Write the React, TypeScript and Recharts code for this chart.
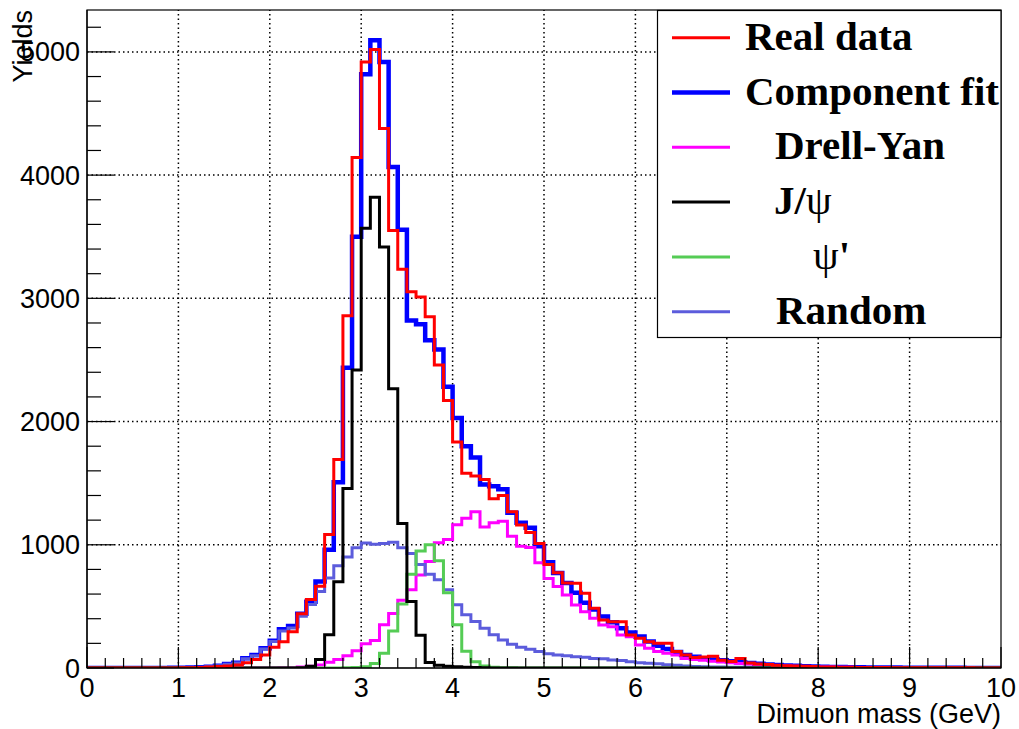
import React from "react";
import { ComposedChart, Line, XAxis, YAxis, ReferenceLine } from "recharts";

// bin contents, 100 bins of 0.1 GeV from 0 to 10
const realData = [
  0, 0, 0, 0, 0, 0, 0, 0, 1, 1,
  2, 3, 5, 8, 12, 16, 24, 43, 70, 106,
  168, 214, 295, 440, 555, 663, 1084, 1693, 2858, 4142,
  4919, 5020, 4378, 3551, 3236, 3054, 3010, 2851, 2460, 2170,
  1835, 1580, 1558, 1530, 1373, 1400, 1268, 1160, 1099, 1010,
  840, 772, 690, 687, 606, 484, 390, 376, 376, 268,
  241, 214, 200, 200, 133, 106, 85, 90, 95, 62,
  52, 78, 40, 33, 28, 23, 19, 16, 14, 12,
  9, 8, 7, 6, 5, 5, 4, 4, 3, 3,
  3, 3, 2, 2, 2, 2, 2, 1, 1, 1,
];

const componentFit = [
  0, 0, 0, 0, 0, 0, 0, 1, 1, 2,
  3, 4, 7, 11, 19, 33, 43, 79, 106, 160,
  222, 314, 340, 440, 538, 702, 959, 1507, 2436, 3500,
  4818, 5095, 4919, 4066, 3556, 2820, 2790, 2660, 2585, 2283,
  2028, 1800, 1708, 1490, 1474, 1450, 1260, 1178, 1138, 988,
  858, 770, 690, 610, 530, 475, 418, 372, 322, 288,
  255, 215, 180, 155, 130, 105, 92, 80, 70, 62,
  54, 47, 40, 34, 29, 25, 21, 18, 15, 13,
  11, 9, 8, 7, 6, 5, 5, 4, 4, 3,
  3, 3, 2, 2, 2, 2, 1, 1, 1, 1,
];

const drellYan = [
  0, 0, 0, 0, 0, 0, 0, 0, 0, 0,
  0, 0, 0, 0, 0, 1, 1, 1, 2, 2,
  3, 4, 5, 8, 15, 25, 47, 70, 100, 139,
  196, 223, 351, 443, 550, 635, 755, 864, 1016, 1043,
  1162, 1215, 1268, 1144, 1178, 1191, 1070, 988, 977, 855,
  726, 662, 592, 511, 457, 403, 349, 335, 268, 254,
  187, 160, 133, 119, 106, 78, 70, 62, 55, 48,
  42, 37, 32, 27, 23, 20, 17, 15, 13, 11,
  9, 8, 7, 6, 5, 5, 4, 4, 3, 3,
  2, 2, 2, 2, 1, 1, 1, 1, 1, 1,
];

const jpsi = [
  0, 0, 0, 0, 0, 0, 0, 0, 0, 0,
  0, 0, 0, 0, 0, 0, 0, 0, 0, 0,
  0, 0, 0, 2, 15, 70, 270, 700, 1456, 2419,
  3568, 3821, 3416, 2267, 1172, 540, 265, 45, 22, 15,
  10, 6, 4, 2, 1, 0, 0, 0, 0, 0,
  0, 0, 0, 0, 0, 0, 0, 0, 0, 0,
  0, 0, 0, 0, 0, 0, 0, 0, 0, 0,
  0, 0, 0, 0, 0, 0, 0, 0, 0, 0,
  0, 0, 0, 0, 0, 0, 0, 0, 0, 0,
  0, 0, 0, 0, 0, 0, 0, 0, 0, 0,
];

const psiPrime = [
  0, 0, 0, 0, 0, 0, 0, 0, 0, 0,
  0, 0, 0, 0, 0, 0, 0, 0, 0, 0,
  0, 0, 0, 0, 0, 0, 0, 0, 2, 5,
  10, 37, 120, 300, 520, 760, 950, 1000, 870, 610,
  350, 135, 50, 16, 6, 3, 2, 1, 0, 0,
  0, 0, 0, 0, 0, 0, 0, 0, 0, 0,
  0, 0, 0, 0, 0, 0, 0, 0, 0, 0,
  0, 0, 0, 0, 0, 0, 0, 0, 0, 0,
  0, 0, 0, 0, 0, 0, 0, 0, 0, 0,
  0, 0, 0, 0, 0, 0, 0, 0, 0, 0,
];

const randomBkg = [
  0, 0, 0, 0, 0, 0, 0, 1, 1, 2,
  3, 4, 7, 11, 18, 30, 40, 75, 100, 155,
  215, 300, 325, 420, 515, 620, 730, 830, 900, 975,
  1015, 1005, 1010, 1020, 975, 930, 840, 760, 717, 636,
  514, 432, 378, 323, 269, 228, 193, 168, 152, 133,
  116, 106, 100, 92, 87, 78, 76, 65, 60, 51,
  43, 38, 35, 27, 22, 16, 13, 11, 9, 8,
  7, 6, 5, 5, 4, 4, 3, 3, 3, 2,
  2, 2, 2, 1, 1, 1, 1, 1, 1, 1,
  1, 1, 1, 0, 0, 0, 0, 0, 0, 0,
];

const xMajor = [0, 1, 2, 3, 4, 5, 6, 7, 8, 9, 10];
const yMajor = [0, 1000, 2000, 3000, 4000, 5000];

const legendItems = [
  { label: "Real data", color: "#ff0000", width: 3 },
  { label: "Component fit", color: "#0000ff", width: 4.5 },
  { label: "Drell-Yan", color: "#ff00ff", width: 3 },
  { label: "J/ψ", color: "#000000", width: 3 },
  { label: "ψ'", color: "#55cc55", width: 3 },
  { label: "Random", color: "#5c5cdc", width: 3 },
];

const W = 1019;
const H = 729;
const PLOT_L = 87;
const PLOT_R = 1001;
const PLOT_T = 10;
const PLOT_B = 668;
const SANS = "'Liberation Sans', Arial, Helvetica, sans-serif";
const SERIF = "'Liberation Serif', 'Times New Roman', serif";

const N = realData.length;
const rows = Array.from({ length: N + 1 }, (_, i) => {
  const k = Math.min(i, N - 1);
  return {
    x: i / 10,
    real: realData[k],
    fit: componentFit[k],
    dy: drellYan[k],
    jpsi: jpsi[k],
    psi2: psiPrime[k],
    rnd: randomBkg[k],
  };
});

const xMinor = Array.from({ length: 51 }, (_, i) => i / 5);
const yMinor = Array.from({ length: 27 }, (_, i) => i * 200);

function XTick(props: any) {
  const { x, payload } = props;
  const v = payload.value;
  const major = Math.abs(v - Math.round(v)) < 1e-6;
  return (
    <g>
      <line x1={x} x2={x} y1={PLOT_B} y2={PLOT_B - (major ? 21 : 10)} stroke="#000" strokeWidth={1.2} />
      {major && (
        <text x={x} y={697} textAnchor="middle" fontSize={27} fontFamily={SANS} fill="#000">
          {Math.round(v)}
        </text>
      )}
    </g>
  );
}

function YTick(props: any) {
  const { y, payload } = props;
  const v = payload.value;
  const major = v % 1000 === 0;
  return (
    <g>
      <line x1={PLOT_L} x2={PLOT_L + (major ? 27 : 14)} y1={y} y2={y} stroke="#000" strokeWidth={1.2} />
      {major && (
        <text x={80} y={y + 9.5} textAnchor="end" fontSize={27} fontFamily={SANS} fill="#000">
          {v}
        </text>
      )}
    </g>
  );
}

const legendX = [745, 745, 775, 774, 813, 776];

export default function App() {
  return (
    <div style={{ position: "absolute", left: 0, top: 0, width: W, height: H, background: "#fff" }}>
      <ComposedChart width={W} height={H} data={rows} margin={{ top: PLOT_T, right: W - PLOT_R, bottom: 0, left: 0 }}>
        <XAxis
          dataKey="x"
          type="number"
          domain={[0, 10]}
          ticks={xMinor}
          interval={0}
          height={H - PLOT_B}
          tickLine={false}
          axisLine={{ stroke: "#000", strokeWidth: 1.2 }}
          tick={<XTick />}
        />
        <YAxis
          type="number"
          domain={[0, 5340]}
          ticks={yMinor}
          interval={0}
          width={PLOT_L}
          tickLine={false}
          axisLine={{ stroke: "#000", strokeWidth: 1.2 }}
          tick={<YTick />}
          allowDataOverflow
        />
        {xMajor.slice(1, -1).map((v) => (
          <ReferenceLine key={"gx" + v} x={v} stroke="#000" strokeWidth={1.5} strokeDasharray="1.5 3" />
        ))}
        {yMajor.slice(1).map((v) => (
          <ReferenceLine key={"gy" + v} y={v} stroke="#000" strokeWidth={1.5} strokeDasharray="1.5 3" />
        ))}
        <Line type="stepAfter" dataKey="fit" stroke="#0000ff" strokeWidth={4.5} dot={false} isAnimationActive={false} />
        <Line type="stepAfter" dataKey="dy" stroke="#ff00ff" strokeWidth={3} dot={false} isAnimationActive={false} />
        <Line type="stepAfter" dataKey="rnd" stroke="#5c5cdc" strokeWidth={3} dot={false} isAnimationActive={false} />
        <Line type="stepAfter" dataKey="psi2" stroke="#55cc55" strokeWidth={3} dot={false} isAnimationActive={false} />
        <Line type="stepAfter" dataKey="jpsi" stroke="#000000" strokeWidth={3} dot={false} isAnimationActive={false} />
        <Line type="stepAfter" dataKey="real" stroke="#ff0000" strokeWidth={3} dot={false} isAnimationActive={false} />
      </ComposedChart>
      <svg width={W} height={H} style={{ position: "absolute", left: 0, top: 0, pointerEvents: "none" }}>
        <rect x={PLOT_L} y={PLOT_T} width={PLOT_R - PLOT_L} height={PLOT_B - PLOT_T} fill="none" stroke="#000" strokeWidth={1.2} />
        <text x={PLOT_R} y={723} textAnchor="end" fontSize={27} fontFamily={SANS} fill="#000">
          Dimuon mass (GeV)
        </text>
        <text transform="translate(32,10) rotate(-90)" textAnchor="end" fontSize={27} fontFamily={SANS} fill="#000">
          Yields
        </text>
        <rect x={657.5} y={10.5} width={343.5} height={327} fill="#fff" stroke="#000" strokeWidth={1.2} />
        {legendItems.map((it, i) => {
          const cy = 37.7 + i * 54.8;
          const isPsi = it.label.includes("ψ");
          return (
            <g key={it.label}>
              <line x1={672} x2={730} y1={cy} y2={cy} stroke={it.color} strokeWidth={it.width} />
              <text x={legendX[i]} y={cy + 12} fontSize={41} fontFamily={SERIF} fontWeight="bold" fill="#000">
                {isPsi
                  ? it.label.split("ψ").map((part, j, arr) => (
                      <React.Fragment key={j}>
                        {part && <tspan>{part}</tspan>}
                        {j < arr.length - 1 && <tspan fontWeight="normal">ψ</tspan>}
                      </React.Fragment>
                    ))
                  : it.label}
              </text>
            </g>
          );
        })}
      </svg>
    </div>
  );
}
